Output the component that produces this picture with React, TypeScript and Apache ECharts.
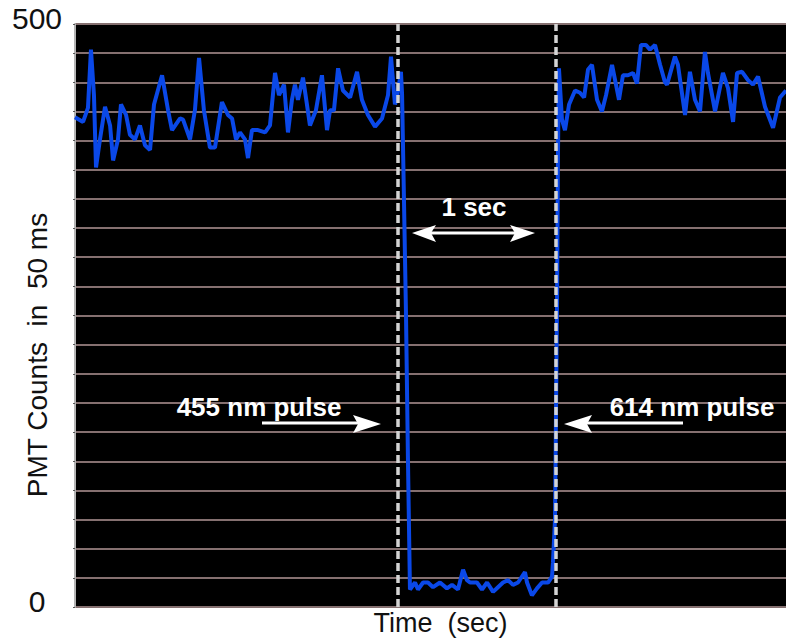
import React, { useEffect, useRef } from "react";
import * as echarts from "echarts";

const timeSec: number[] = [
  0.0, 0.051, 0.082, 0.101, 0.12, 0.133, 0.158, 0.19, 0.222, 0.241, 0.272, 0.291, 0.323, 0.348, 0.38, 0.411,
  0.443, 0.475, 0.5, 0.551, 0.589, 0.614, 0.665, 0.684, 0.728, 0.759, 0.785, 0.816, 0.854, 0.886, 0.93, 0.968,
  0.994, 1.019, 1.044, 1.076, 1.095, 1.12, 1.158, 1.203, 1.234, 1.266, 1.291, 1.323, 1.348, 1.373, 1.392, 1.411,
  1.443, 1.468, 1.487, 1.525, 1.563, 1.595, 1.614, 1.639, 1.665, 1.696, 1.741, 1.785, 1.816, 1.854, 1.899, 1.943,
  1.981, 2.0, 2.025, 2.038, 2.063, 2.07, 2.082, 2.095, 2.108, 2.12,
  2.152, 2.171, 2.203, 2.234, 2.266, 2.31, 2.354, 2.386, 2.424, 2.456, 2.481, 2.5, 2.544, 2.576, 2.608, 2.646,
  2.677, 2.709, 2.741, 2.772, 2.804, 2.848, 2.861, 2.892, 2.924, 2.956, 2.994, 3.019, 3.025, 3.038, 3.051, 3.057,
  3.063,
  3.082, 3.101, 3.127, 3.165, 3.196, 3.222, 3.247, 3.272, 3.304, 3.335, 3.361, 3.399, 3.424, 3.443, 3.468, 3.5,
  3.532, 3.557, 3.582, 3.614, 3.639, 3.671, 3.703, 3.734, 3.747, 3.797, 3.816, 3.861, 3.892, 3.924, 3.956, 3.987,
  4.006, 4.051, 4.101, 4.133, 4.165, 4.19, 4.222, 4.259, 4.291, 4.323, 4.367, 4.418, 4.462, 4.5,
];

const pmtCounts: number[] = [
  420, 416, 428, 478, 439, 377, 401, 429, 413, 383, 401, 431, 422, 405, 401, 413,
  396, 392, 431, 456, 426, 409, 419, 418, 401, 426, 471, 426, 394, 394, 433, 422,
  419, 401, 407, 401, 385, 409, 409, 407, 413, 458, 439, 448, 407, 435, 448, 435,
  454, 431, 413, 426, 456, 409, 426, 426, 462, 443, 437, 459, 435, 422, 412, 419,
  439, 472, 431, 437, 459, 440, 350, 250, 120, 15,
  21, 15, 21, 21, 17, 21, 16, 19, 15, 32, 23, 21, 21, 15, 21, 13,
  17, 21, 23, 19, 21, 30, 21, 10, 16, 21, 21, 26, 38, 75, 263, 392,
  462,
  418, 409, 431, 443, 441, 437, 461, 465, 435, 425, 439, 465, 448, 435, 456, 456,
  458, 449, 482, 482, 478, 482, 465, 450, 448, 472, 465, 422, 459, 435, 425, 476,
  458, 425, 458, 445, 416, 458, 459, 452, 448, 455, 429, 411, 437, 443,
];

const pulseTimes: number[] = [2.044, 3.044];
const yTickLabels: number[] = [0, 500];

const yAxisName = "PMT Counts  in  50 ms";
const xAxisName = "Time  (sec)";
const label455 = "455 nm pulse";
const label614 = "614 nm pulse";
const labelSec = "1 sec";

const FONT = "'Liberation Sans', Arial, Helvetica, sans-serif";

export default function App() {
  const ref = useRef<HTMLDivElement>(null);

  useEffect(() => {
    document.body.style.margin = "0";
    if (!ref.current) return;
    const chart = echarts.init(ref.current, null, { renderer: "svg" });
    const data = timeSec.map((t, i) => [t, pmtCounts[i]]);
    const white = "#ffffff";
    const annFont = `bold 26px ${FONT}`;

    const annotations: any[] = [
      {
        type: "text",
        x: 37,
        y: 355,
        rotation: Math.PI / 2,
        style: {
          text: yAxisName,
          font: `28px ${FONT}`,
          fill: "#111",
          align: "center",
          verticalAlign: "middle",
        },
      },
      // 1 sec
      {
        type: "text",
        x: 474,
        y: 207,
        style: { text: labelSec, font: annFont, fill: white, align: "center", verticalAlign: "middle" },
        z: 10,
      },
      { type: "line", shape: { x1: 425, y1: 233, x2: 522, y2: 233 }, style: { stroke: white, lineWidth: 3 }, z: 10 },
      { type: "polygon", shape: { points: [[412, 233], [436, 225], [431, 233], [436, 242]] }, style: { fill: white }, z: 10 },
      { type: "polygon", shape: { points: [[535, 233], [510, 225], [515, 233], [510, 242]] }, style: { fill: white }, z: 10 },
      // 455 nm pulse
      {
        type: "text",
        x: 259,
        y: 407,
        style: { text: label455, font: annFont, fill: white, align: "center", verticalAlign: "middle" },
        z: 10,
      },
      { type: "line", shape: { x1: 262, y1: 423, x2: 362, y2: 423 }, style: { stroke: white, lineWidth: 3 }, z: 10 },
      { type: "polygon", shape: { points: [[381, 424], [353, 415], [358, 424], [353, 433]] }, style: { fill: white }, z: 10 },
      // 614 nm pulse
      {
        type: "text",
        x: 692,
        y: 407,
        style: { text: label614, font: annFont, fill: white, align: "center", verticalAlign: "middle" },
        z: 10,
      },
      { type: "line", shape: { x1: 585, y1: 423, x2: 683, y2: 423 }, style: { stroke: white, lineWidth: 3 }, z: 10 },
      { type: "polygon", shape: { points: [[564, 424], [592, 415], [587, 424], [592, 433]] }, style: { fill: white }, z: 10 },
    ];

    chart.setOption({
      animation: false,
      backgroundColor: "#ffffff",
      grid: {
        left: 75,
        top: 24,
        right: 0,
        bottom: 36,
        show: true,
        backgroundColor: "#000000",
        borderWidth: 0,
      },
      xAxis: {
        type: "value",
        min: 0,
        max: 4.5,
        name: xAxisName,
        nameLocation: "middle",
        nameGap: 2,
        nameTextStyle: {
          fontFamily: FONT,
          fontSize: 27,
          color: "#111",
          verticalAlign: "top",
          padding: [0, 0, 0, 20],
        },
        axisLine: { show: false },
        axisTick: { show: false },
        axisLabel: { show: false },
        splitLine: { show: false },
      },
      yAxis: {
        type: "value",
        min: 0,
        max: 500,
        interval: 25,
        axisLine: { show: true, lineStyle: { color: "#b4b4b4", width: 2 } },
        axisTick: { show: true, length: 2, lineStyle: { color: "#555" } },
        axisLabel: { show: false },
        splitLine: { show: true, lineStyle: { color: "#857070", width: 2 } },
      },
      series: [
        {
          type: "line",
          data,
          showSymbol: false,
          symbol: "none",
          lineStyle: { color: "#0a48e8", width: 4 },
          z: 2,
        },
        {
          type: "line",
          data: [],
          z: 5,
          markLine: {
            silent: true,
            symbol: "none",
            label: { show: false },
            lineStyle: { color: "#d4d4d4", type: [8, 4], width: 3.5 },
            data: pulseTimes.map((t) => ({ xAxis: t })),
          },
        },
      ],
      graphic: annotations,
    });

    // y tick labels (0 and 500), placed from the axis scale
    const tickTexts = yTickLabels.map((v) => {
      const py = chart.convertToPixel({ yAxisIndex: 0 }, v) as number;
      return {
        type: "text",
        x: 37,
        y: py - 6,
        style: {
          text: String(v),
          font: `30px ${FONT}`,
          fill: "#111",
          align: "center",
          verticalAlign: "middle",
        },
      };
    });
    chart.setOption({ graphic: [...annotations, ...tickTexts] });

    return () => chart.dispose();
  }, []);

  return <div ref={ref} style={{ width: 786, height: 643 }} />;
}
